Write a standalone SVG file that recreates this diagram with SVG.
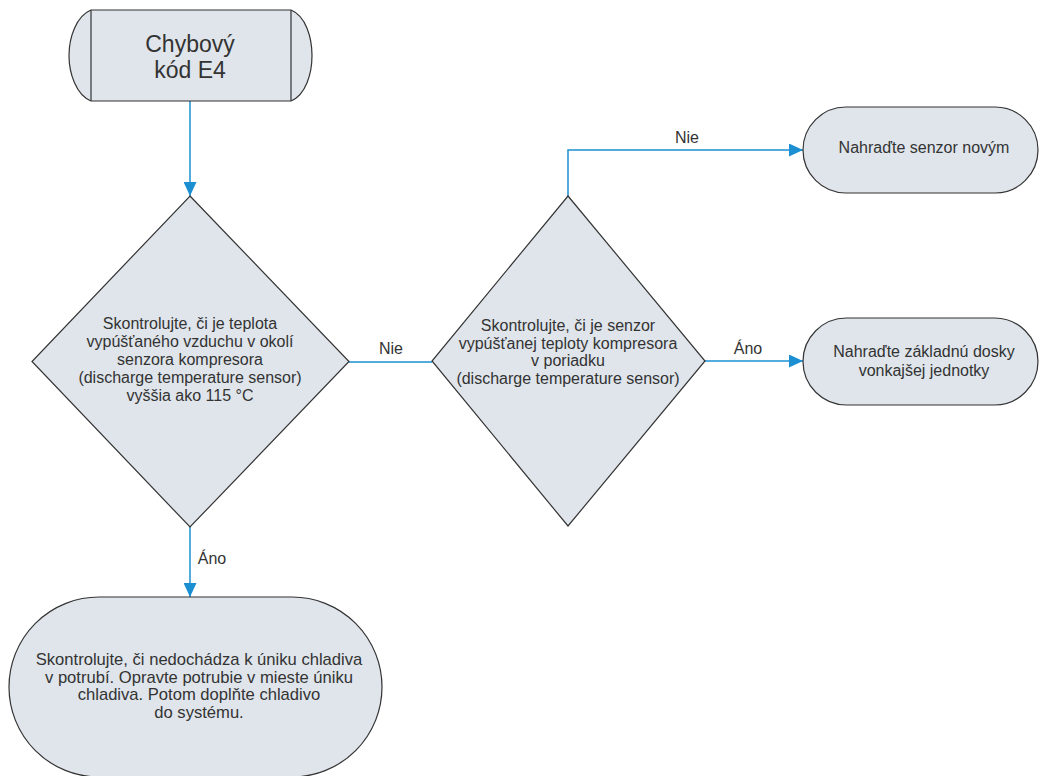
<svg xmlns="http://www.w3.org/2000/svg" width="1039" height="776" viewBox="0 0 1039 776">
<defs>
<style>
.shape{fill:#dfe5eb;stroke:#333;stroke-width:1.2}
.t{font-family:"Liberation Sans",Arial,sans-serif;font-size:16px;fill:#333;text-anchor:middle}
.big{font-size:23px}
.mid{font-size:16.6px}
.conn{fill:none;stroke:#1b8fd2;stroke-width:1.5}
</style>
<marker id="arr" markerUnits="userSpaceOnUse" markerWidth="14" markerHeight="13" refX="14" refY="6.5" orient="auto">
<path d="M0,0 L14,6.5 L0,13 z" fill="#1b8fd2"/>
</marker>
</defs>
<rect width="1039" height="776" fill="#fff"/>
<g id="connectors">
<path class="conn" d="M190,101 V196" marker-end="url(#arr)"/>
<path class="conn" d="M349,362 H432"/>
<path class="conn" d="M568,196 V150 H803" marker-end="url(#arr)"/>
<path class="conn" d="M705,361 H803" marker-end="url(#arr)"/>
<path class="conn" d="M190,527 V597" marker-end="url(#arr)"/>
<text class="t" x="391" y="354">Nie</text>
<text class="t" x="687" y="143">Nie</text>
<text class="t" x="748" y="354">Áno</text>
<text class="t" x="212" y="564">Áno</text>
</g>
<g id="start">
<path class="shape" d="M91,10 H291 C306,16 312,38 312,55.5 C312,73 306,95 291,101 H91 C76,95 69,73 69,55.5 C69,38 76,16 91,10 Z"/>
<line x1="91" y1="10" x2="91" y2="101" stroke="#333" stroke-width="1.2"/>
<line x1="291" y1="10" x2="291" y2="101" stroke="#333" stroke-width="1.2"/>
<text class="t big" x="190" y="52">Chybový</text>
<text class="t big" x="190" y="78">kód E4</text>
</g>
<g id="decision1">
<polygon class="shape" points="190,196 349,361.5 190,527 32,361.5"/>
<text class="t" x="190" y="329">Skontrolujte, či je teplota</text>
<text class="t" x="190" y="347">vypúšťaného vzduchu v okolí</text>
<text class="t" x="190" y="365">senzora kompresora</text>
<text class="t" x="190" y="383">(discharge temperature sensor)</text>
<text class="t" x="190" y="401">vyššia ako 115 °C</text>
</g>
<g id="decision2">
<polygon class="shape" points="568,196 705,361 568,526 432,361"/>
<text class="t" x="568" y="331">Skontrolujte, či je senzor</text>
<text class="t" x="568" y="348.5">vypúšťanej teploty kompresora</text>
<text class="t" x="568" y="366">v poriadku</text>
<text class="t" x="568" y="383.5">(discharge temperature sensor)</text>
</g>
<g id="replace-sensor">
<rect class="shape" x="803" y="107" width="235" height="86" rx="43" ry="43"/>
<text class="t" x="924" y="153">Nahraďte senzor novým</text>
</g>
<g id="replace-board">
<rect class="shape" x="803" y="318" width="235" height="87" rx="43.5" ry="43.5"/>
<text class="t" x="924" y="357">Nahraďte základnú dosky</text>
<text class="t" x="924" y="375.5">vonkajšej jednotky</text>
</g>
<g id="check-leak">
<rect class="shape" x="9" y="597" width="373" height="180" rx="90" ry="90"/>
<text class="t mid" x="199" y="665">Skontrolujte, či nedochádza k úniku chladiva</text>
<text class="t mid" x="199" y="682.5">v potrubí. Opravte potrubie v mieste úniku</text>
<text class="t mid" x="199" y="700">chladiva. Potom doplňte chladivo</text>
<text class="t mid" x="199" y="717.5">do systému.</text>
</g>
</svg>
